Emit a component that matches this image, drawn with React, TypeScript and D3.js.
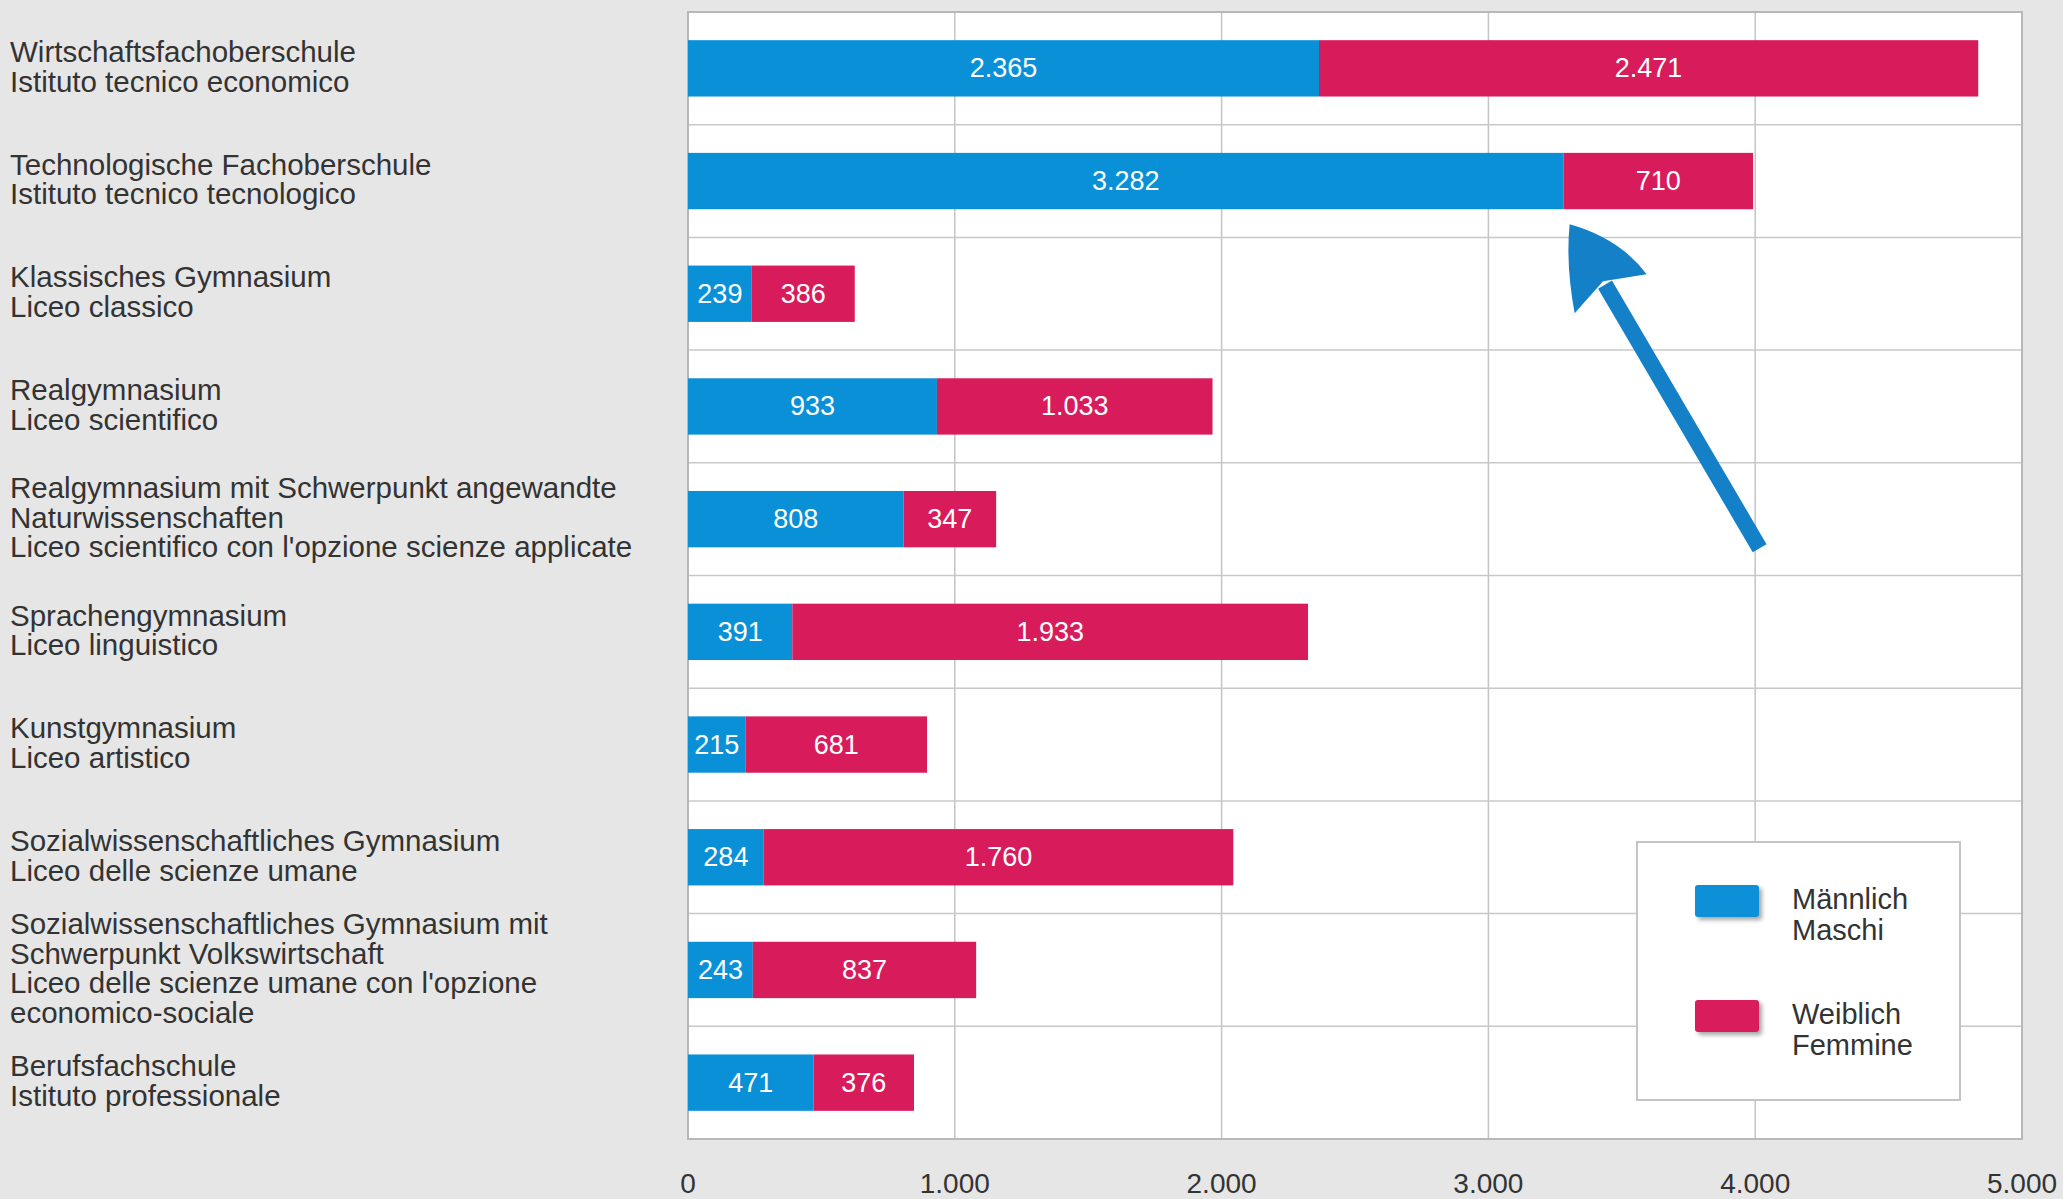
import React from "react";
import * as d3 from "d3";

const categories: string[][] = [
  ["Wirtschaftsfachoberschule", "Istituto tecnico economico"],
  ["Technologische Fachoberschule", "Istituto tecnico tecnologico"],
  ["Klassisches Gymnasium", "Liceo classico"],
  ["Realgymnasium", "Liceo scientifico"],
  ["Realgymnasium mit Schwerpunkt angewandte", "Naturwissenschaften", "Liceo scientifico con l'opzione scienze applicate"],
  ["Sprachengymnasium", "Liceo linguistico"],
  ["Kunstgymnasium", "Liceo artistico"],
  ["Sozialwissenschaftliches Gymnasium", "Liceo delle scienze umane"],
  ["Sozialwissenschaftliches Gymnasium mit", "Schwerpunkt Volkswirtschaft", "Liceo delle scienze umane con l'opzione", "economico-sociale"],
  ["Berufsfachschule", "Istituto professionale"],
];

const male: number[] = [2365, 3282, 239, 933, 808, 391, 215, 284, 243, 471];
const female: number[] = [2471, 710, 386, 1033, 347, 1933, 681, 1760, 837, 376];

const xTicks: number[] = [0, 1000, 2000, 3000, 4000, 5000];

const legendItems: { lines: string[]; key: "m" | "f" }[] = [
  { lines: ["Männlich", "Maschi"], key: "m" },
  { lines: ["Weiblich", "Femmine"], key: "f" },
];

const W = 2063;
const H = 1199;
const BLUE = "#0a90d7";
const PINK = "#d81c5b";
const ARROW = "#1480c7";
const FONT = "'Liberation Sans', Arial, Helvetica, sans-serif";

const locale = d3.formatLocale({ decimal: ",", thousands: ".", grouping: [3], currency: ["", "€"] });
const fmt = locale.format(",d");

export default function App() {
  const left = 688, right = 2022, top = 12, bottom = 1139;
  const x = d3.scaleLinear().domain([0, 5000]).range([left, right]);
  const y = d3.scaleBand<number>().domain(d3.range(categories.length)).range([top, bottom]).paddingInner(0.5).paddingOuter(0.25);
  const bw = y.bandwidth();
  const step = y.step();
  const lineH = 29.7;

  // arrow annotation anchored to the Technologische Fachoberschule male bar end
  const ax = x(male[1]);
  const ay = (y(1) as number) + bw;
  const tip: [number, number] = [ax + 6, ay + 15];
  const tail: [number, number] = [tip[0] + 190, tip[1] + 324];
  const len = Math.hypot(tail[0] - tip[0], tail[1] - tip[1]);
  const ux = (tail[0] - tip[0]) / len, uy = (tail[1] - tip[1]) / len;
  const wingL: [number, number] = [tip[0] + 5, tip[1] + 89];
  const wingR: [number, number] = [tip[0] + 77, tip[1] + 50];
  const notch: [number, number] = [tip[0] + ux * 66, tip[1] + uy * 66];
  const headPath = `M${tip[0]},${tip[1]} Q${tip[0] + 50},${tip[1] + 14} ${wingR[0]},${wingR[1]} L${notch[0]},${notch[1]} L${wingL[0]},${wingL[1]} Q${tip[0] - 4},${tip[1] + 40} ${tip[0]},${tip[1]} Z`;

  return (
    <svg width={W} height={H} style={{ position: "absolute", left: 0, top: 0, display: "block" }} fontFamily={FONT}>
      <defs>
        <filter id="sh" x="-20%" y="-20%" width="150%" height="160%">
          <feDropShadow dx="3" dy="3" stdDeviation="2" floodColor="#000" floodOpacity="0.35" />
        </filter>
      </defs>
      <rect x={0} y={0} width={W} height={H} fill="#e6e6e6" />
      <rect x={left} y={top} width={right - left} height={bottom - top} fill="#ffffff" />
      {/* vertical gridlines */}
      {xTicks.slice(1, -1).map((t) => (
        <line key={"g" + t} x1={x(t)} x2={x(t)} y1={top} y2={bottom} stroke="#c4c4c4" strokeWidth={1.5} />
      ))}
      {/* row separators */}
      {d3.range(1, categories.length).map((i) => {
        const yy = (y(i) as number) - (step - bw) / 2;
        return <line key={"r" + i} x1={left} x2={right} y1={yy} y2={yy} stroke="#c8c8c8" strokeWidth={1.5} />;
      })}
      <rect x={left} y={top} width={right - left} height={bottom - top} fill="none" stroke="#b8b8b8" strokeWidth={2} />

      {/* bars */}
      {categories.map((_, i) => {
        const yy = y(i) as number;
        const m = male[i], f = female[i];
        return (
          <g key={"b" + i}>
            <rect x={x(0)} y={yy} width={x(m) - x(0)} height={bw} fill={BLUE} />
            <rect x={x(m)} y={yy} width={x(m + f) - x(m)} height={bw} fill={PINK} />
            <text x={(x(0) + x(m)) / 2} y={yy + bw / 2} fill="#ffffff" fontSize={27} textAnchor="middle" dominantBaseline="central">{fmt(m)}</text>
            <text x={(x(m) + x(m + f)) / 2} y={yy + bw / 2} fill="#ffffff" fontSize={27} textAnchor="middle" dominantBaseline="central">{fmt(f)}</text>
          </g>
        );
      })}

      {/* category labels */}
      {categories.map((lines, i) => {
        const cy = (y(i) as number) + bw / 2 - 2;
        return (
          <g key={"c" + i}>
            {lines.map((ln, j) => (
              <text key={j} x={10} y={cy + (j - (lines.length - 1) / 2) * lineH} fill="#333333" fontSize={29.5} dominantBaseline="central">{ln}</text>
            ))}
          </g>
        );
      })}

      {/* x tick labels */}
      {xTicks.map((t) => (
        <text key={"t" + t} x={x(t)} y={1183} fill="#333333" fontSize={28} textAnchor="middle" dominantBaseline="central">{fmt(t)}</text>
      ))}

      {/* legend */}
      <rect x={1637} y={842} width={323} height={258} fill="#ffffff" stroke="#c4c4c4" strokeWidth={2} />
      {legendItems.map((it, i) => {
        const sy = 885 + i * 115;
        return (
          <g key={"l" + i}>
            <rect x={1695} y={sy} width={64} height={32} rx={3} fill={it.key === "m" ? BLUE : PINK} filter="url(#sh)" />
            {it.lines.map((ln, j) => (
              <text key={j} x={1792} y={sy + 14 + j * 31} fill="#333333" fontSize={29} dominantBaseline="central">{ln}</text>
            ))}
          </g>
        );
      })}

      {/* arrow annotation */}
      <line x1={notch[0] + ux * 4} y1={notch[1] + uy * 4} x2={tail[0]} y2={tail[1]} stroke={ARROW} strokeWidth={16} />
      <path d={headPath} fill={ARROW} />
    </svg>
  );
}
